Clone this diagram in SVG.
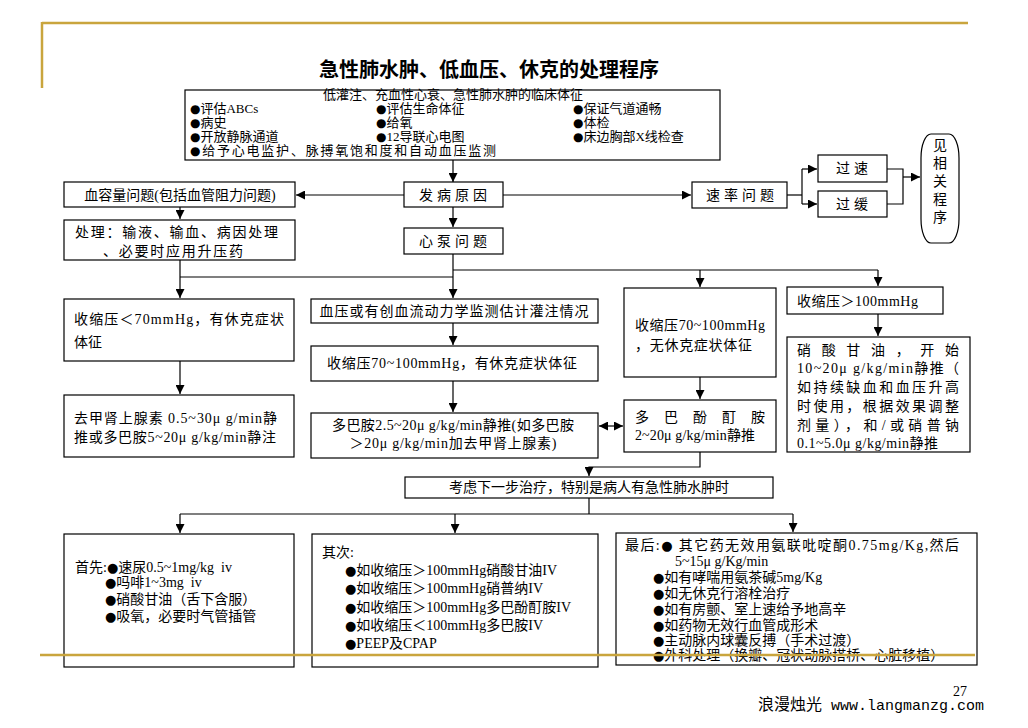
<svg xmlns="http://www.w3.org/2000/svg" width="1028" height="728" viewBox="0 0 1028 728">
<defs>
<marker id="ah" viewBox="0 0 10 10" refX="10" refY="5" markerWidth="9" markerHeight="9" markerUnits="userSpaceOnUse" orient="auto-start-reverse">
<path d="M0,0 L10,5 L0,10 z" fill="#000"/>
</marker>
<style>
.bx{fill:#fff;stroke:#000;stroke-width:1.2}
.t{font-family:"Liberation Serif","Noto Sans CJK SC",serif;font-size:14px;fill:#000}
.s{font-size:13px}
.b{font-family:"DejaVu Sans",sans-serif;font-size:13px}
.s .b{font-size:12px}
.c{text-anchor:middle}
.sp{letter-spacing:4px}
.ln{fill:none;stroke:#000;stroke-width:1.2}
.ar{marker-end:url(#ah)}
.gold{stroke:#C9A53D;stroke-width:2.5;fill:none}
</style>
</defs>
<rect width="1028" height="728" fill="#fff"/>
<g id="frame">
<line class="gold" x1="42" y1="23" x2="968" y2="23"/>
<line class="gold" x1="42" y1="22" x2="42" y2="88"/>
</g>
<text id="title" class="t c" x="489" y="77" style="font-size:20px;font-weight:bold">急性肺水肿、低血压、休克的处理程序</text>

<g id="connectors">
<line class="ln ar" x1="453" y1="160" x2="453" y2="182"/>
<line class="ln ar" x1="404" y1="195" x2="296" y2="195"/>
<line class="ln ar" x1="503" y1="195" x2="691" y2="195"/>
<polyline class="ln" points="787,195 802,195"/>
<line class="ln" x1="802" y1="169" x2="802" y2="204"/>
<line class="ln ar" x1="802" y1="169" x2="817" y2="169"/>
<line class="ln ar" x1="802" y1="204" x2="817" y2="204"/>
<polyline class="ln" points="887,169 903,169 903,204 887,204"/>
<line class="ln ar" x1="903" y1="177" x2="920" y2="177"/>
<line class="ln ar" x1="180" y1="207" x2="180" y2="219"/>
<line class="ln ar" x1="453" y1="207" x2="453" y2="227"/>
<line class="ln ar" x1="453" y1="254" x2="453" y2="298"/>
<polyline class="ln" points="453,270 878,270"/>
<line class="ln ar" x1="700" y1="270" x2="700" y2="287"/>
<line class="ln ar" x1="878" y1="270" x2="878" y2="286"/>
<line class="ln ar" x1="180" y1="260" x2="180" y2="298"/>
<line class="ln" x1="180" y1="277" x2="453" y2="277"/>
<line class="ln ar" x1="180" y1="361" x2="180" y2="394"/>
<line class="ln ar" x1="453" y1="323" x2="453" y2="345"/>
<line class="ln ar" x1="453" y1="381" x2="453" y2="412"/>
<line class="ln ar" x1="700" y1="377" x2="700" y2="399"/>
<line class="ln ar" x1="878" y1="314" x2="878" y2="336"/>
<line class="ln ar" x1="599" y1="426" x2="623" y2="426" style="marker-start:url(#ah)"/>
<polyline class="ln ar" points="700,452 700,467 589,467 589,476"/>
<line class="ln" x1="589" y1="498" x2="589" y2="514"/>
<line class="ln" x1="180" y1="514" x2="793" y2="514"/>
<line class="ln ar" x1="180" y1="514" x2="180" y2="533"/>
<line class="ln ar" x1="455" y1="514" x2="455" y2="533"/>
<line class="ln ar" x1="793" y1="514" x2="793" y2="532"/>
</g>

<g id="n-signs">
<rect class="bx" x="185" y="90" width="535" height="70"/>
<text class="t s c" x="453" y="99">低灌注、充血性心衰、急性肺水肿的临床体征</text>
<text class="t s" x="190" y="113"><tspan class="b">●</tspan>评估ABCs</text>
<text class="t s" x="190" y="127"><tspan class="b">●</tspan>病史</text>
<text class="t s" x="190" y="141"><tspan class="b">●</tspan>开放静脉通道</text>
<text class="t s" x="190" y="155" textLength="306" lengthAdjust="spacing"><tspan class="b">●</tspan>给予心电监护、脉搏氧饱和度和自动血压监测</text>
<text class="t s" x="376" y="113"><tspan class="b">●</tspan>评估生命体征</text>
<text class="t s" x="376" y="127"><tspan class="b">●</tspan>给氧</text>
<text class="t s" x="376" y="141"><tspan class="b">●</tspan>12导联心电图</text>
<text class="t s" x="573" y="113"><tspan class="b">●</tspan>保证气道通畅</text>
<text class="t s" x="573" y="127"><tspan class="b">●</tspan>体检</text>
<text class="t s" x="573" y="141"><tspan class="b">●</tspan>床边胸部X线检查</text>
</g>
<g id="n-cause">
<rect class="bx" x="404" y="182" width="99" height="25"/>
<text class="t c sp" x="455" y="200">发病原因</text>
</g>
<g id="n-volume">
<rect class="bx" x="64" y="182" width="231" height="25"/>
<text class="t c" x="180" y="200">血容量问题(包括血管阻力问题)</text>
</g>
<g id="n-treat">
<rect class="bx" x="64" y="220" width="231" height="40"/>
<text class="t" x="75" y="237" textLength="203" lengthAdjust="spacing">处理：输液、输血、病因处理</text>
<text class="t" x="103" y="256" textLength="140" lengthAdjust="spacing">、必要时应用升压药</text>
</g>
<g id="n-pump">
<rect class="bx" x="404" y="228" width="99" height="26"/>
<text class="t c sp" x="455" y="246">心泵问题</text>
</g>
<g id="n-rate">
<rect class="bx" x="692" y="182" width="95" height="26"/>
<text class="t c sp" x="742" y="200">速率问题</text>
</g>
<g id="n-fast">
<rect class="bx" x="818" y="155" width="69" height="27"/>
<text class="t c sp" x="854" y="173">过速</text>
</g>
<g id="n-slow">
<rect class="bx" x="818" y="191" width="69" height="26"/>
<text class="t c sp" x="854" y="209">过缓</text>
</g>
<g id="n-see">
<rect class="bx" x="921" y="134" width="38" height="109" rx="10" ry="24"/>
<text class="t c" x="940" y="150">见</text>
<text class="t c" x="940" y="168">相</text>
<text class="t c" x="940" y="186">关</text>
<text class="t c" x="940" y="204">程</text>
<text class="t c" x="940" y="222">序</text>
</g>
<g id="n-lt70">
<rect class="bx" x="64" y="299" width="230" height="62"/>
<text class="t" x="74" y="324" textLength="210" lengthAdjust="spacing">收缩压＜70mmHg，有休克症状</text>
<text class="t" x="74" y="347">体征</text>
</g>
<g id="n-norepi">
<rect class="bx" x="64" y="395" width="230" height="62"/>
<text class="t" x="74" y="423" textLength="203" lengthAdjust="spacing">去甲肾上腺素 0.5~30μ g/min静</text>
<text class="t" x="74" y="442" textLength="202" lengthAdjust="spacing">推或多巴胺5~20μ g/kg/min静注</text>
</g>
<g id="n-monitor">
<rect class="bx" x="311" y="299" width="287" height="24"/>
<text class="t c" x="454" y="316" textLength="269" lengthAdjust="spacing">血压或有创血流动力学监测估计灌注情况</text>
</g>
<g id="n-70shock">
<rect class="bx" x="311" y="346" width="287" height="35"/>
<text class="t c" x="452" y="368" textLength="250" lengthAdjust="spacing">收缩压70~100mmHg，有休克症状体征</text>
</g>
<g id="n-dopamine">
<rect class="bx" x="311" y="413" width="287" height="45"/>
<text class="t c" x="453" y="430" textLength="242" lengthAdjust="spacing">多巴胺2.5~20μ g/kg/min静推(如多巴胺</text>
<text class="t c" x="453" y="448" textLength="207" lengthAdjust="spacing">＞20μ g/kg/min加去甲肾上腺素)</text>
</g>
<g id="n-70noshock">
<rect class="bx" x="624" y="288" width="152" height="89"/>
<text class="t" x="635" y="330" textLength="130" lengthAdjust="spacing">收缩压70~100mmHg</text>
<text class="t" x="635" y="350" textLength="117" lengthAdjust="spacing">，无休克症状体征</text>
</g>
<g id="n-dobutamine">
<rect class="bx" x="624" y="400" width="152" height="52"/>
<text class="t" x="635" y="422" textLength="130" lengthAdjust="spacing">多巴酚酊胺</text>
<text class="t" x="635" y="440" textLength="120" lengthAdjust="spacing">2~20μ g/kg/min静推</text>
</g>
<g id="n-gt100">
<rect class="bx" x="787" y="287" width="156" height="27"/>
<text class="t" x="797" y="306" textLength="121" lengthAdjust="spacing">收缩压＞100mmHg</text>
</g>
<g id="n-ntg">
<rect class="bx" x="787" y="337" width="183" height="115"/>
<text class="t" x="797" y="355" textLength="162" lengthAdjust="spacing">硝酸甘油，开始</text>
<text class="t" x="797" y="373" textLength="162" lengthAdjust="spacing">10~20μ g/kg/min静推（</text>
<text class="t" x="797" y="392" textLength="162" lengthAdjust="spacing">如持续缺血和血压升高</text>
<text class="t" x="797" y="411" textLength="162" lengthAdjust="spacing">时使用，根据效果调整</text>
<text class="t" x="797" y="430" textLength="162" lengthAdjust="spacing">剂量），和/或硝普钠</text>
<text class="t" x="797" y="448" textLength="141" lengthAdjust="spacing">0.1~5.0μ g/kg/min静推</text>
</g>
<g id="n-next">
<rect class="bx" x="405" y="477" width="368" height="21"/>
<text class="t c" x="589" y="492">考虑下一步治疗，特别是病人有急性肺水肿时</text>
</g>
<g id="n-first">
<rect class="bx" x="64" y="534" width="230" height="133"/>
<text class="t" x="75" y="572" xml:space="preserve">首先:<tspan class="b">●</tspan>速尿0.5~1mg/kg  iv</text>
<text class="t" x="105" y="587" xml:space="preserve"><tspan class="b">●</tspan>吗啡1~3mg  iv</text>
<text class="t" x="105" y="604"><tspan class="b">●</tspan>硝酸甘油（舌下含服）</text>
<text class="t" x="105" y="621"><tspan class="b">●</tspan>吸氧，必要时气管插管</text>
</g>
<g id="n-second">
<rect class="bx" x="312" y="534" width="286" height="133"/>
<text class="t" x="322" y="557">其次:</text>
<text class="t" x="345" y="575"><tspan class="b">●</tspan>如收缩压＞100mmHg硝酸甘油IV</text>
<text class="t" x="345" y="593"><tspan class="b">●</tspan>如收缩压＞100mmHg硝普纳IV</text>
<text class="t" x="345" y="612"><tspan class="b">●</tspan>如收缩压＞100mmHg多巴酚酊胺IV</text>
<text class="t" x="345" y="630"><tspan class="b">●</tspan>如收缩压＜100mmHg多巴胺IV</text>
<text class="t" x="345" y="648"><tspan class="b">●</tspan>PEEP及CPAP</text>
</g>
<g id="n-last">
<rect class="bx" x="616" y="533" width="361" height="132"/>
<text class="t" x="625" y="550" textLength="334" lengthAdjust="spacing">最后:<tspan class="b">●</tspan> 其它药无效用氨联吡啶酮0.75mg/Kg,然后</text>
<text class="t" x="675" y="566">5~15μ g/Kg/min</text>
<text class="t" x="653" y="582"><tspan class="b">●</tspan>如有哮喘用氨茶碱5mg/Kg</text>
<text class="t" x="653" y="598"><tspan class="b">●</tspan>如无休克行溶栓治疗</text>
<text class="t" x="653" y="614"><tspan class="b">●</tspan>如有房颤、室上速给予地高辛</text>
<text class="t" x="653" y="630"><tspan class="b">●</tspan>如药物无效行血管成形术</text>
<text class="t" x="653" y="645"><tspan class="b">●</tspan>主动脉内球囊反搏（手术过渡）</text>
<text class="t" x="653" y="660"><tspan class="b">●</tspan>外科处理（换瓣、冠状动脉搭桥、心脏移植）</text>
</g>
<line id="footer-rule" class="gold" x1="40" y1="655" x2="975" y2="655"/>
<g id="footer">
<text class="t c" x="960" y="696" style="font-size:14px">27</text>
<text x="758" y="710" style="font-family:'Noto Sans CJK SC',sans-serif;font-size:16px">浪漫烛光<tspan style="font-family:'Liberation Mono',monospace;font-size:15px"> www.langmanzg.com</tspan></text>
</g>
</svg>
